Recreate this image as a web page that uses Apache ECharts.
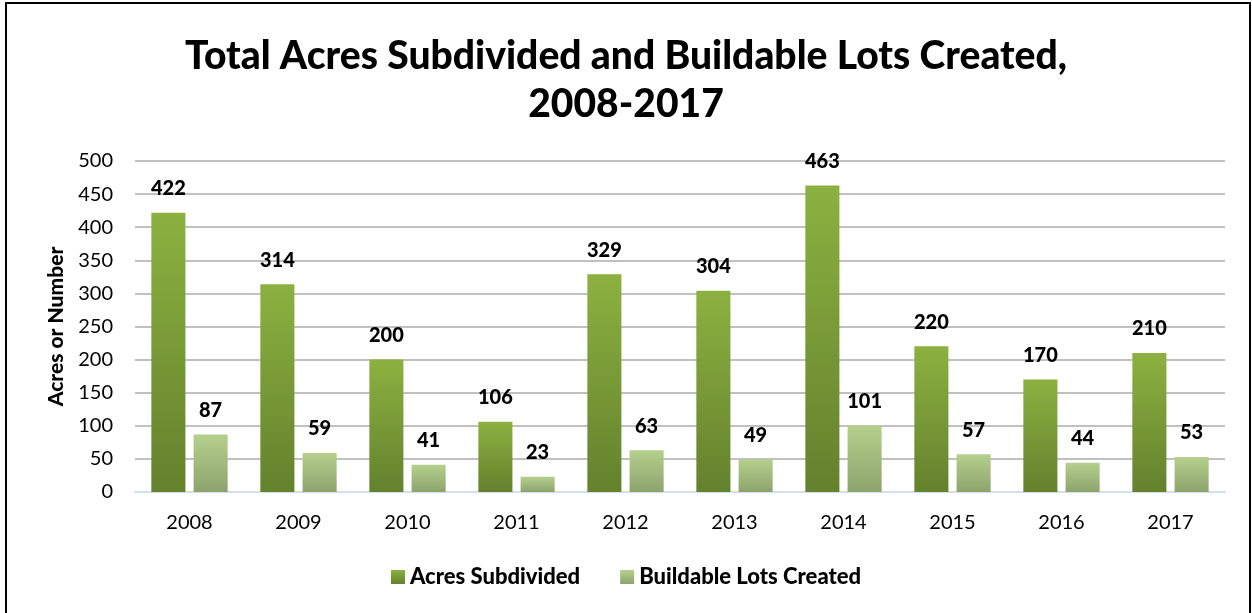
<!DOCTYPE html>
<html>
<head>
<meta charset="utf-8">
<script src="https://cdn.jsdelivr.net/npm/echarts@6/dist/echarts.min.js"></script>
<style>
  html, body { margin: 0; padding: 0; background: #fff; }
  #frame { position: absolute; left: 5px; top: 2px; width: 1246px; height: 640px; border: 2px solid #000; box-sizing: border-box; }
  #chart { position: absolute; left: 0; top: 0; width: 1252px; height: 613px; }
</style>
</head>
<body>
<div id="frame"></div>
<div id="chart"></div>
<script>
// Subdivision activity by year
const years = ['2008', '2009', '2010', '2011', '2012', '2013', '2014', '2015', '2016', '2017'];
const acresSubdivided = [422, 314, 200, 106, 329, 304, 463, 220, 170, 210];
const buildableLots = [87, 59, 41, 23, 63, 49, 101, 57, 44, 53];
const yTicks = { min: 0, max: 500, interval: 50 };

const FONT = 'Lato, "Open Sans", sans-serif';

function vGrad(top, bottom) {
  return new echarts.graphic.LinearGradient(0, 0, 0, 1, [
    { offset: 0, color: top },
    { offset: 1, color: bottom }
  ]);
}

const labelStyle = {
  show: true,
  position: 'top',
  distance: 14,
  color: '#000',
  fontFamily: FONT,
  fontWeight: 900,
  fontSize: 20
};

const chart = echarts.init(document.getElementById('chart'), null, { renderer: 'canvas' });
chart.setOption({
  animation: false,
  backgroundColor: 'transparent',
  title: {
    text: 'Total Acres Subdivided and Buildable Lots Created,\n2008-2017',
    left: 'center',
    top: 27,
    textStyle: {
      fontFamily: FONT,
      fontWeight: 900,
      fontSize: 39,
      lineHeight: 48,
      color: '#000'
    }
  },
  legend: {
    bottom: 20,
    left: 'center',
    itemWidth: 14,
    itemHeight: 14,
    itemGap: 40,
    icon: 'rect',
    textStyle: { fontFamily: FONT, fontWeight: 900, fontSize: 22, color: '#000' }
  },
  grid: { left: 135, right: 27, top: 161, bottom: 121, containLabel: false },
  xAxis: {
    type: 'category',
    data: years,
    axisLine: { lineStyle: { color: '#d2e0f0', width: 2 } },
    axisTick: { show: false },
    axisLabel: { fontFamily: FONT, fontSize: 20, color: '#000', margin: 21 }
  },
  yAxis: {
    type: 'value',
    min: yTicks.min,
    max: yTicks.max,
    interval: yTicks.interval,
    name: 'Acres or Number',
    nameLocation: 'middle',
    nameGap: 68,
    nameTextStyle: { fontFamily: FONT, fontWeight: 900, fontSize: 21, color: '#000' },
    axisLine: { show: false },
    axisTick: { show: false },
    axisLabel: { fontFamily: FONT, fontSize: 20, color: '#000', margin: 22 },
    splitLine: { lineStyle: { color: '#c0c0c0', width: 2 } }
  },
  series: [
    {
      name: 'Acres Subdivided',
      type: 'bar',
      data: acresSubdivided,
      barGap: '24%',
      barCategoryGap: '30%',
      itemStyle: { color: vGrad('#8cb140', '#64812d') },
      label: labelStyle
    },
    {
      name: 'Buildable Lots Created',
      type: 'bar',
      data: buildableLots,
      itemStyle: { color: vGrad('#b5d08d', '#8da36c') },
      label: labelStyle
    }
  ]
});
</script>
</body>
</html>
